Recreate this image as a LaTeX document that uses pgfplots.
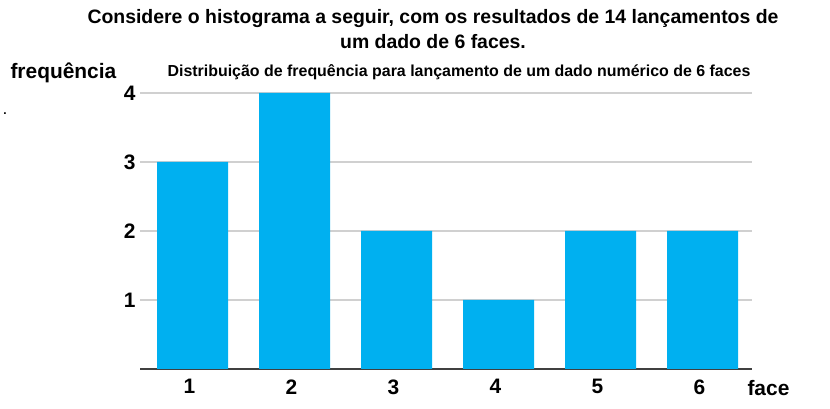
\documentclass[border=0pt]{standalone}
\usepackage{pgfplots}
\pgfplotsset{compat=1.18}
\usepackage{fontspec}
\setmainfont{Liberation Sans}
\definecolor{barcyan}{RGB}{0,176,240}
\definecolor{gridgray}{RGB}{208,208,208}
\definecolor{basegray}{RGB}{64,64,64}
\newcommand{\tickfont}{\fontsize{21}{23}\selectfont\bfseries}
\begin{document}
\begin{tikzpicture}
\path[use as bounding box] (0,0) rectangle (830bp,409bp);
\begin{axis}[
    anchor=south west,
    at={(140bp,40bp)},
    scale only axis,
    width=612bp,
    height=276bp,
    xmin=0.485, xmax=6.485,
    ymin=0, ymax=4,
    axis x line*=bottom,
    axis y line*=left,
    y axis line style={draw=none},
    x axis line style={basegray, line width=2bp, -},
    xtick={1,2,3,4,5,6},
    ytick={1,2,3,4},
    major tick length=0pt,
    ymajorgrids,
    grid style={gridgray, line width=1.5bp},
    /pgf/number format/assume math mode=true,
    xticklabel style={font=\tickfont, xshift=-3bp, yshift=-7bp},
    yticklabel style={font=\tickfont, xshift=-1bp},
    clip=false,
]
\addplot[ybar, bar width=71bp, fill=barcyan, draw=none] coordinates {
    (1,3) (2,4) (3,2) (4,1) (5,2) (6,2)
};
\end{axis}
\node[font=\fontsize{19.5}{25}\selectfont\bfseries, align=center] at (433bp,380bp)
    {Considere o histograma a seguir, com os resultados de 14 lançamentos de\\um dado de 6 faces.};
\node[font=\fontsize{21}{22}\selectfont\bfseries, anchor=west] at (7bp,336bp) {frequência};
\node[font=\fontsize{16}{17}\selectfont\bfseries] at (459bp,337bp)
    {Distribuição de frequência para lançamento de um dado numérico de 6 faces};
\node[font=\fontsize{21}{22}\selectfont\bfseries, anchor=west] at (744bp,21bp) {face};
\node[font=\fontsize{12}{14}\selectfont\bfseries] at (5bp,295bp) {.};
\end{tikzpicture}
\end{document}
